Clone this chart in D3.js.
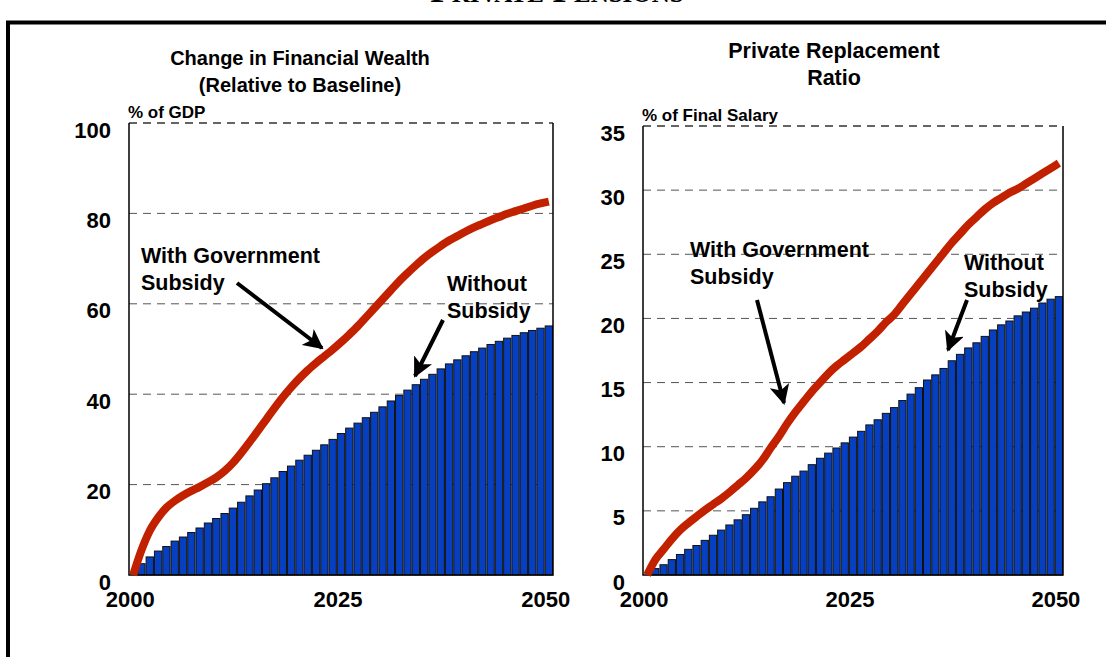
<!DOCTYPE html>
<html><head><meta charset="utf-8">
<script src="https://cdn.jsdelivr.net/npm/d3@7"></script>
<style>body{margin:0;background:#fff}svg{display:block}</style>
</head><body>
<svg id="c" width="1106" height="657"></svg>
<script>
const years = d3.range(2000, 2051);
const xTickLabels = [2000, 2025, 2050];

const wealthTicks = [0, 20, 40, 60, 80, 100];
const wealthBars = [0, 2.5, 4.0, 5.3, 6.3, 7.5, 8.4, 9.4, 10.4, 11.5, 12.5, 13.6, 14.8, 16.1, 17.5, 18.8, 20.2, 21.5, 22.9, 24.1, 25.4, 26.5, 27.6, 28.8, 30.0, 31.3, 32.5, 33.6, 34.8, 36.0, 37.2, 38.5, 39.7, 40.9, 42.1, 43.3, 44.4, 45.6, 46.7, 47.6, 48.5, 49.4, 50.2, 51.0, 51.7, 52.4, 53.0, 53.6, 54.1, 54.6, 55.1];
const wealthLine = [0, 5.5, 9.8, 12.7, 14.9, 16.4, 17.6, 18.6, 19.5, 20.5, 21.6, 23.0, 24.8, 27.0, 29.4, 31.9, 34.4, 36.9, 39.3, 41.5, 43.5, 45.3, 46.9, 48.4, 49.9, 51.5, 53.2, 55.0, 57.0, 59.0, 61.0, 63.0, 65.0, 66.8, 68.5, 70.1, 71.5, 72.8, 74.0, 75.0, 76.0, 76.9, 77.7, 78.5, 79.2, 79.9, 80.5, 81.1, 81.7, 82.2, 82.6];

const ratioTicks = [0, 5, 10, 15, 20, 25, 30, 35];
const ratioBars = [0, 0.5, 0.8, 1.2, 1.6, 2.0, 2.3, 2.7, 3.1, 3.5, 3.9, 4.3, 4.7, 5.2, 5.7, 6.1, 6.7, 7.2, 7.7, 8.1, 8.6, 9.1, 9.5, 9.9, 10.3, 10.75, 11.2, 11.7, 12.1, 12.6, 13.05, 13.6, 14.1, 14.6, 15.2, 15.6, 16.1, 16.7, 17.2, 17.7, 18.1, 18.6, 19.1, 19.5, 19.8, 20.2, 20.5, 20.8, 21.2, 21.5, 21.7];
const ratioLine = [0, 1.2, 2.0, 2.8, 3.5, 4.05, 4.55, 5.05, 5.5, 5.95, 6.45, 7.0, 7.55, 8.2, 8.95, 9.9, 10.8, 11.8, 12.7, 13.5, 14.3, 15.0, 15.7, 16.3, 16.8, 17.3, 17.8, 18.4, 19.0, 19.7, 20.3, 21.1, 21.9, 22.7, 23.5, 24.3, 25.1, 25.9, 26.6, 27.3, 27.9, 28.5, 29.0, 29.4, 29.8, 30.1, 30.5, 30.9, 31.3, 31.7, 32.1];

const svg = d3.select("#c");
const FONT = "'Liberation Sans', Arial, sans-serif";

// page frame
svg.append("path").attr("d", "M8,657 V22.5 H1106").attr("fill", "none").attr("stroke", "#000").attr("stroke-width", 4);
svg.append("text").attr("x", 557).attr("y", 1.5).attr("text-anchor", "middle")
  .attr("font-family", "'Liberation Serif', 'Times New Roman', serif").attr("font-weight", "bold")
  .attr("font-size", 35).style("font-variant", "small-caps").text("Private Pensions");

const defs = svg.append("defs");
defs.append("marker").attr("id", "ah").attr("viewBox", "0 0 10 10").attr("refX", 9).attr("refY", 5)
  .attr("markerWidth", 5).attr("markerHeight", 5).attr("orient", "auto-start-reverse").attr("markerUnits", "strokeWidth")
  .append("path").attr("d", "M0,0 L10,5 L0,10 L2.5,5 Z").attr("fill", "#000");

function panel(cfg) {
  const g = svg.append("g");
  const x = d3.scaleBand().domain(years).range([cfg.x0, cfg.x1]).paddingInner(0.12).paddingOuter(0.06);
  const y = d3.scaleLinear().domain([0, cfg.ymax]).range([cfg.yb, cfg.yt]);

  // titles
  cfg.title.forEach((t, i) => g.append("text").attr("x", cfg.tx).attr("y", cfg.ty + i * 27)
    .attr("text-anchor", "middle").attr("font-family", FONT).attr("font-weight", "bold").attr("font-size", cfg.tsize).text(t));
  g.append("text").attr("x", cfg.x0 - 1).attr("y", cfg.yt - 5).attr("font-family", FONT)
    .attr("font-weight", "bold").attr("font-size", 17).text(cfg.unit);

  // gridlines
  g.selectAll(".grid").data(cfg.ticks.filter(d => d > 0)).join("line")
    .attr("x1", cfg.x0).attr("x2", cfg.x1).attr("y1", d => y(d)).attr("y2", d => y(d))
    .attr("stroke", d => d === cfg.ymax ? "#333" : "#555").attr("stroke-width", d => d === cfg.ymax ? 1.5 : 1)
    .attr("stroke-dasharray", "8,6");

  // bars
  g.selectAll(".bar").data(years.map((yr, i) => ({yr, v: cfg.bars[i]})).filter(d => d.v > 0)).join("rect")
    .attr("x", d => x(d.yr)).attr("width", x.bandwidth())
    .attr("y", d => y(d.v)).attr("height", d => y(0) - y(d.v))
    .attr("fill", "#0640c0").attr("stroke", "#111").attr("stroke-width", 1);

  // frame (left, bottom, right)
  g.append("path").attr("d", `M${cfg.x0},${cfg.yt} V${cfg.yb} H${cfg.x1} V${cfg.yt}`)
    .attr("fill", "none").attr("stroke", "#000").attr("stroke-width", 1.5);

  // line
  const line = d3.line().x((d, i) => x(years[i]) + x.bandwidth() / 2).y(d => y(d)).curve(d3.curveMonotoneX);
  g.append("path").datum(cfg.line).attr("d", line).attr("fill", "none")
    .attr("stroke", "#c22100").attr("stroke-width", 8);

  // axes
  const ya = g.append("g").attr("transform", `translate(${cfg.x0 - 18},0)`)
    .call(d3.axisLeft(y).tickValues(cfg.ticks).tickSize(0).tickPadding(0));
  const xa = g.append("g").attr("transform", `translate(${cfg.xshift},${cfg.yb + 32})`)
    .call(d3.axisBottom(x).tickValues(xTickLabels).tickSize(0).tickPadding(0));
  [ya, xa].forEach(a => {
    a.select(".domain").remove();
    a.selectAll("text").attr("font-family", FONT).attr("font-weight", "bold").attr("font-size", 22).attr("fill", "#000");
  });
  xa.selectAll("text").attr("y", 0).attr("dy", 0);
  ya.selectAll("text").attr("dy", 14);

  // annotations
  cfg.notes.forEach(n => {
    n.lines.forEach((t, i) => g.append("text").attr("x", n.x).attr("y", n.y + i * 27)
      .attr("font-family", FONT).attr("font-weight", "bold").attr("font-size", 21.5).text(t));
    g.append("line").attr("x1", n.a[0]).attr("y1", n.a[1]).attr("x2", n.a[2]).attr("y2", n.a[3])
      .attr("stroke", "#000").attr("stroke-width", 4).attr("marker-end", "url(#ah)");
  });
}

panel({
  x0: 129, x1: 553, yt: 123, yb: 575, ymax: 100, ticks: wealthTicks, xshift: -3,
  bars: wealthBars, line: wealthLine, tx: 300, ty: 65, tsize: 20,
  title: ["Change in Financial Wealth", "(Relative to Baseline)"], unit: "% of GDP",
  notes: [
    {lines: ["With Government", "Subsidy"], x: 141, y: 263, a: [237, 283, 322, 348]},
    {lines: ["Without", "Subsidy"], x: 447, y: 291, a: [443, 320, 415, 376]}
  ]
});
panel({
  x0: 643, x1: 1063, yt: 126, yb: 575, ymax: 35, ticks: ratioTicks, xshift: -3,
  bars: ratioBars, line: ratioLine, tx: 834, ty: 58, tsize: 21.5,
  title: ["Private Replacement", "Ratio"], unit: "% of Final Salary",
  notes: [
    {lines: ["With Government", "Subsidy"], x: 690, y: 257, a: [757, 300, 784, 403]},
    {lines: ["Without", "Subsidy"], x: 964, y: 270, a: [967, 300, 948, 350]}
  ]
});
</script>
</body></html>
